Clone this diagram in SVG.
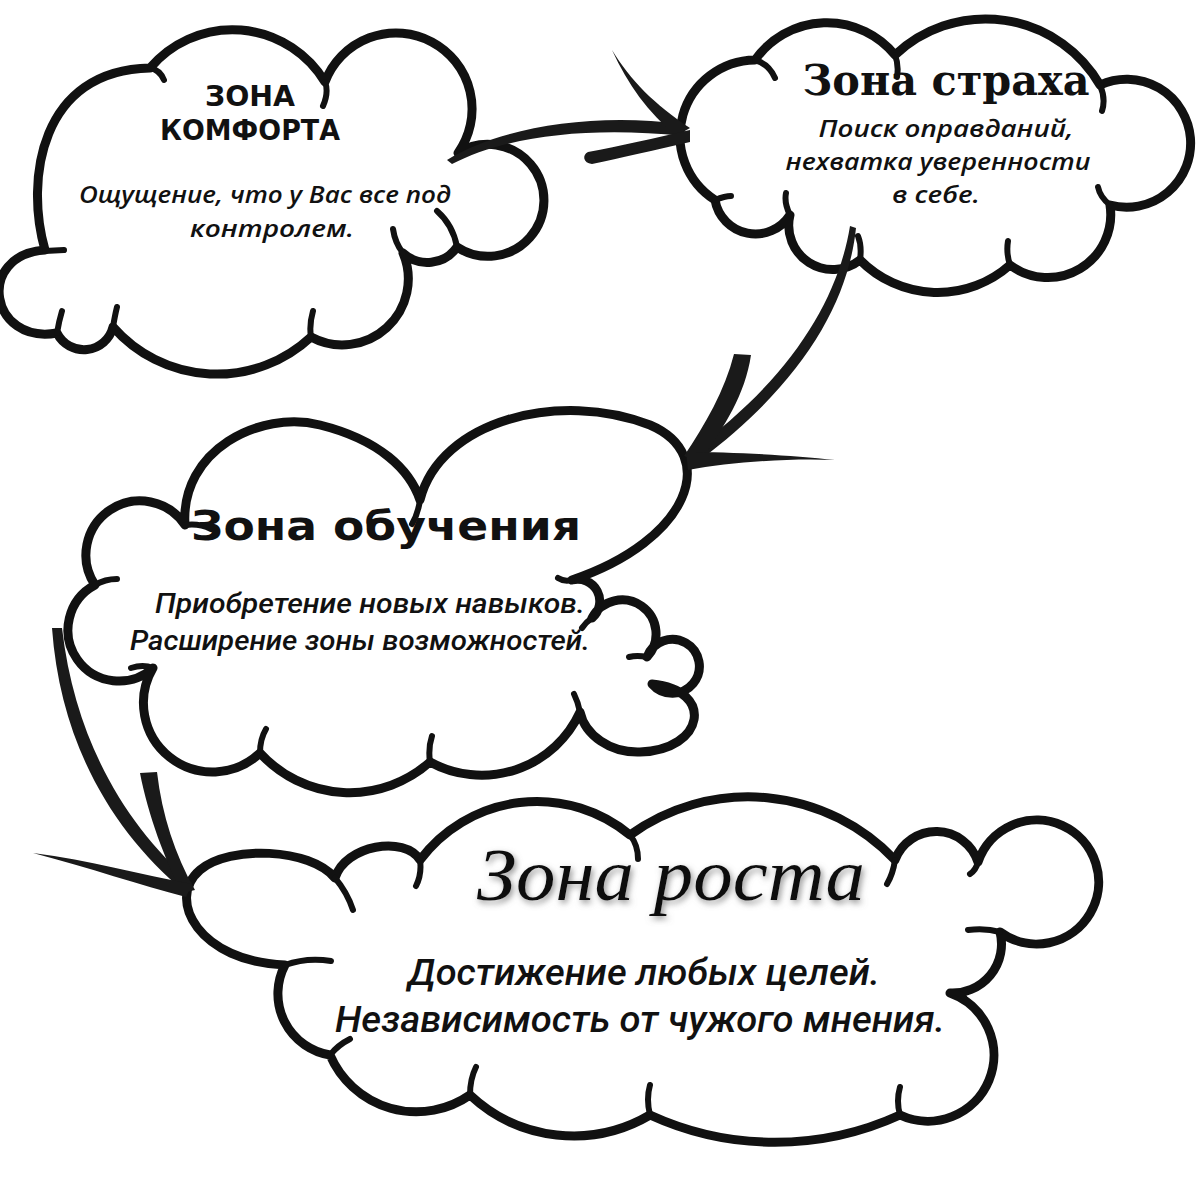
<svg xmlns="http://www.w3.org/2000/svg" width="1200" height="1200" viewBox="0 0 1200 1200">
<defs>
<style>
.cloud{fill:#fff;stroke:#111;stroke-width:9;stroke-linejoin:round}
.hook{fill:none;stroke:#111;stroke-width:6;stroke-linecap:round}
.ink{fill:#1a1a1a}
.sub{font-family:"Open Sans","Noto Sans",sans-serif;font-style:italic;font-weight:600;fill:#111;text-anchor:middle}
.cond{font-family:Roboto,"Noto Sans",sans-serif;font-style:italic;font-weight:500;fill:#111;text-anchor:middle}
.t1{font-family:"DejaVu Sans",sans-serif;font-weight:bold;fill:#111;text-anchor:middle}
.t2{font-family:"DejaVu Serif",serif;font-weight:bold;fill:#111;text-anchor:middle}
.t3{font-family:"DejaVu Sans",sans-serif;font-weight:bold;fill:#111;text-anchor:middle}
.t4{font-family:"Liberation Serif",serif;font-style:italic;fill:#111;text-anchor:middle}
</style>
<filter id="sh" x="-10%" y="-30%" width="120%" height="160%">
<feDropShadow dx="2" dy="3" stdDeviation="3" flood-color="#777" flood-opacity="0.8"/>
</filter>
</defs>
<rect width="1200" height="1200" fill="#fff"/>

<g id="comfort">
<path class="cloud" d="M45,250 C25,180 40,70 150,68 A108,108 0 0 1 325,82 A76,76 0 1 1 458,153 A56,56 0 1 1 457,247 A36,36 0 0 1 403,253 A66,66 0 0 1 311,337 A138,138 0 0 1 113,327 A30,30 0 0 1 57,333 C-10,345 -25,255 45,250 Z"/>
<path class="hook" d="M45,251 L64,250 M150,68 q10,2 14,12 M325,82 q4,10 -2,24 M457,247 q-4,-22 -20,-36 M403,253 q-8,-10 -10,-24 M311,337 q-2,-12 2,-26 M113,327 q2,-12 4,-20 M57,333 q2,-12 5,-22"/>
<text class="t1" x="250" y="106" font-size="28" textLength="90" lengthAdjust="spacingAndGlyphs">ЗОНА</text>
<text class="t1" x="250" y="140" font-size="28" textLength="180" lengthAdjust="spacingAndGlyphs">КОМФОРТА</text>
<text class="sub" x="265" y="203" font-size="24" textLength="372" lengthAdjust="spacingAndGlyphs">Ощущение, что у Вас все под</text>
<text class="sub" x="272" y="237" font-size="24" textLength="164" lengthAdjust="spacingAndGlyphs">контролем.</text>
</g>

<g id="fear">
<path class="cloud" d="M715,200 A76,76 0 0 1 755,60 A88,88 0 0 1 895,55 A132,132 0 0 1 1100,85 A64,64 0 1 1 1110,205 A63,63 0 0 1 1010,265 A109,109 0 0 1 860,260 A44,44 0 0 1 790,215 A41,41 0 0 1 715,200 Z"/>
<path class="hook" d="M755,60 q14,4 20,18 M895,55 q4,10 2,22 M1100,85 q6,14 2,26 M1110,205 q-10,-8 -12,-18 M1010,265 q-4,-12 -2,-24 M860,260 q2,-14 -2,-24 M790,215 q-6,-12 -4,-22 M715,200 q10,-4 16,-4"/>
<text class="t2" x="946" y="95" font-size="42" textLength="287" lengthAdjust="spacingAndGlyphs">Зона страха</text>
<text class="sub" x="946" y="137" font-size="23" textLength="255" lengthAdjust="spacingAndGlyphs">Поиск оправданий,</text>
<text class="sub" x="938" y="170" font-size="23" textLength="305" lengthAdjust="spacingAndGlyphs">нехватка уверенности</text>
<text class="sub" x="936" y="203" font-size="23" textLength="88" lengthAdjust="spacingAndGlyphs">в себе.</text>
</g>

<g id="learning">
<path class="cloud" d="M185,525 C180,450 260,410 320,425 C380,440 410,470 420,500 C440,420 560,390 650,425 C720,455 690,540 572,580 A22,22 0 0 1 592,618 A34,34 0 1 1 647,657 A27,27 0 1 1 652,684 C715,690 705,750 640,752 C610,753 585,735 580,712 A108,108 0 0 1 430,762 A121,121 0 0 1 260,753 A69,69 0 0 1 153,668 A51,51 0 1 1 95,585 A54,54 0 0 1 185,525 Z"/>
<path class="hook" d="M185,525 q14,-2 26,4 M420,500 q-2,14 -8,24 M572,580 q-8,2 -14,-2 M592,618 q-6,4 -10,10 M647,657 q-10,-2 -18,0 M580,712 q-2,-10 -6,-18 M430,762 q-2,-14 2,-26 M260,753 q0,-14 6,-24 M153,668 q-10,-4 -22,0 M95,585 q10,-6 22,-6"/>
<text class="t3" x="386" y="540" font-size="40" textLength="390" lengthAdjust="spacingAndGlyphs">Зона обучения</text>
<text class="cond" x="370" y="613" font-size="28" textLength="430" lengthAdjust="spacingAndGlyphs">Приобретение новых навыков.</text>
<text class="cond" x="360" y="650" font-size="28" textLength="460" lengthAdjust="spacingAndGlyphs">Расширение зоны возможностей.</text>
</g>

<g id="growth">
<path class="cloud" d="M285,965 C200,962 165,900 200,870 C230,845 310,848 335,878 C345,845 405,835 420,860 A146,146 0 0 1 630,835 A202,202 0 0 1 895,860 A44,44 0 0 1 978,862 A62,62 0 1 1 1000,932 A49,49 0 0 1 950,993 A66,66 0 1 1 900,1115 A300,300 0 0 1 650,1115 A151,151 0 0 1 470,1095 A94,94 0 0 1 330,1055 A62,62 0 0 1 285,965 Z"/>
<path class="hook" d="M285,965 q22,-8 46,-4 M335,878 q12,14 18,32 M420,860 q2,14 -4,26 M630,835 q8,10 8,24 M895,860 q-2,14 -8,24 M978,862 q-2,8 -8,12 M1000,932 q-14,-4 -32,-2 M950,993 q8,-2 14,4 M900,1115 q-4,-14 0,-28 M650,1115 q-4,-16 0,-30 M470,1095 q0,-16 6,-28 M330,1055 q8,-10 20,-16"/>
<text class="t4" x="671" y="900" font-size="74" textLength="388" lengthAdjust="spacingAndGlyphs" filter="url(#sh)">Зона роста</text>
<text class="cond" x="644" y="985" font-size="36" textLength="472" lengthAdjust="spacingAndGlyphs">Достижение любых целей.</text>
<text class="cond" x="640" y="1032" font-size="36" textLength="610" lengthAdjust="spacingAndGlyphs">Независимость от чужого мнения.</text>
</g>

<g id="connectors">
<path class="ink" d="M447,160 C500,128 590,112 682,124 L683,136 C590,126 505,136 452,164 Z"/>
<path class="ink" d="M612,50 C630,80 655,105 690,128 L676,136 C648,112 628,85 612,50 Z"/>
<path class="ink" d="M588,152 C620,146 655,138 690,130 L690,142 C655,150 620,158 592,164 C583,163 582,155 588,152 Z"/>

<path class="ink" d="M850,226 C838,300 790,380 690,452 L700,460 C800,385 848,305 856,228 Z"/>
<path class="ink" d="M734,354 L751,355 C745,395 725,425 700,462 L684,456 C705,425 725,390 734,354 Z"/>
<path class="ink" d="M835,460 C790,458 730,462 688,470 L686,452 C730,452 790,455 835,460 Z"/>

<path class="ink" d="M52,628 C60,740 110,830 185,892 L192,883 C125,825 75,740 62,628 Z"/>
<path class="ink" d="M140,773 L157,772 C162,815 175,855 195,890 L182,893 C165,860 148,815 140,773 Z"/>
<path class="ink" d="M33,853 C90,860 140,875 192,884 L186,897 C140,885 90,868 33,853 Z"/>
</g>
</svg>
